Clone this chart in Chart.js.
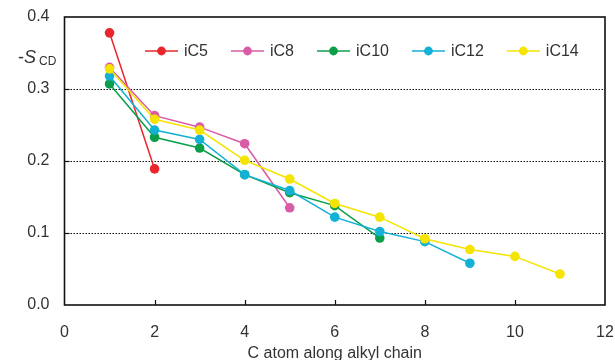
<!DOCTYPE html>
<html>
<head>
<meta charset="utf-8">
<script src="https://cdn.jsdelivr.net/npm/chart.js@4/dist/chart.umd.min.js"></script>
<style>
html,body{margin:0;padding:0;background:#fff;}
#wrap{width:615px;height:360px;position:relative;}
</style>
</head>
<body>
<div id="wrap"><canvas id="c" width="615" height="360"></canvas></div>
<script>
// ---- data ----
const carbonAtoms = [1, 2, 3, 4, 5, 6, 7, 8, 9, 10, 11];
const seriesNames = ["iC5", "iC8", "iC10", "iC12", "iC14"];
const iC5  = [0.378, 0.189];
const iC8  = [0.330, 0.263, 0.247, 0.224, 0.135];
const iC10 = [0.307, 0.233, 0.218, 0.181, 0.156, 0.138, 0.093];
const iC12 = [0.318, 0.243, 0.230, 0.181, 0.159, 0.122, 0.102, 0.088, 0.058];
const iC14 = [0.328, 0.258, 0.243, 0.201, 0.175, 0.141, 0.122, 0.092, 0.077, 0.0675, 0.043];
const xTicks = [0, 2, 4, 6, 8, 10, 12];
const yTicks = [0.0, 0.1, 0.2, 0.3, 0.4];
const xTitle = "C atom along alkyl chain";

const seriesValues = [iC5, iC8, iC10, iC12, iC14];
const colors = ["#e8262b", "#d95ba6", "#0b9f4a", "#14b1d6", "#f5e300"];
const FONT = "'Liberation Sans', Arial, sans-serif";
const TXT = "#333333";

const datasets = seriesValues.map((vals, i) => ({
  label: seriesNames[i],
  data: vals.map((v, k) => ({x: carbonAtoms[k], y: v})),
  borderColor: colors[i],
  backgroundColor: colors[i],
  pointBackgroundColor: colors[i],
  pointBorderColor: colors[i],
  pointRadius: 4.8,
  pointBorderWidth: 0,
  borderWidth: 1.5,
  tension: 0,
  order: seriesValues.length - i
}));

const decor = {
  id: 'decor',
  beforeDatasetsDraw(chart) {
    const {ctx, chartArea: a, scales: {x, y}} = chart;
    ctx.save();
    ctx.strokeStyle = '#111';
    ctx.lineWidth = 1.2;
    ctx.setLineDash([1.5, 1.5]);
    yTicks.forEach(v => {
      if (v <= 0 || v >= 0.4) return;
      const py = Math.round(y.getPixelForValue(v)) + 0.5;
      ctx.beginPath(); ctx.moveTo(a.left, py); ctx.lineTo(a.right, py); ctx.stroke();
    });
    ctx.setLineDash([]);
    ctx.restore();
  },
  afterDraw(chart) {
    const {ctx, chartArea: a, scales: {x, y}} = chart;
    ctx.save();
    ctx.strokeStyle = '#111';
    ctx.lineWidth = 1.6;
    ctx.strokeRect(a.left, a.top, a.right - a.left, a.bottom - a.top);
    ctx.lineWidth = 1.2;
    xTicks.forEach(v => {
      if (v <= 0 || v >= 12) return;
      const px = Math.round(x.getPixelForValue(v)) + 0.5;
      ctx.beginPath(); ctx.moveTo(px, a.bottom); ctx.lineTo(px, a.bottom - 5); ctx.stroke();
    });
    yTicks.forEach(v => {
      if (v <= 0 || v >= 0.4) return;
      const py = Math.round(y.getPixelForValue(v)) + 0.5;
      ctx.beginPath(); ctx.moveTo(a.left, py); ctx.lineTo(a.left + 5, py); ctx.stroke();
    });
    // x title
    ctx.fillStyle = TXT;
    ctx.font = "16px " + FONT;
    ctx.textAlign = 'center';
    ctx.textBaseline = 'alphabetic';
    ctx.fillText(xTitle, (a.left + a.right) / 2, 358);
    // y title -S_CD
    ctx.textAlign = 'left';
    ctx.font = "18px " + FONT;
    ctx.fillText("-", 18, 63);
    const wDash = ctx.measureText("-").width;
    ctx.font = "italic 18px " + FONT;
    ctx.fillText("S", 18 + wDash, 63);
    const wS = ctx.measureText("S").width;
    ctx.font = "12px " + FONT;
    ctx.fillText("CD", 18 + wDash + wS + 3, 65);
    // legend
    let lx = 145;
    const ly = 51;
    ctx.font = "16px " + FONT;
    ctx.textBaseline = 'middle';
    chart.data.datasets.forEach(ds => {
      ctx.strokeStyle = ds.borderColor;
      ctx.lineWidth = 1.5;
      ctx.beginPath(); ctx.moveTo(lx, ly); ctx.lineTo(lx + 33, ly); ctx.stroke();
      ctx.fillStyle = ds.borderColor;
      ctx.beginPath(); ctx.arc(lx + 16.5, ly, 4.4, 0, Math.PI * 2); ctx.fill();
      ctx.fillStyle = TXT;
      ctx.fillText(ds.label, lx + 39, ly + 1);
      lx += 39 + ctx.measureText(ds.label).width + 23;
    });
    ctx.restore();
  }
};

new Chart(document.getElementById('c'), {
  type: 'line',
  data: {datasets},
  options: {
    responsive: false,
    animation: false,
    devicePixelRatio: 1,
    layout: {padding: {top: 17, right: 10, left: 0, bottom: 0}},
    plugins: {legend: {display: false}, tooltip: {enabled: false}},
    scales: {
      x: {
        type: 'linear', min: 0, max: 12,
        afterBuildTicks: s => { s.ticks = xTicks.map(v => ({value: v})); },
        afterFit: s => { s.height = 55; s.paddingLeft = 0; s.paddingRight = 0; },
        grid: {display: false, drawTicks: false},
        border: {display: false},
        ticks: {padding: 18, color: TXT, font: {size: 16, family: FONT}, maxRotation: 0,
                callback: v => String(v)}
      },
      y: {
        type: 'linear', min: 0, max: 0.4,
        afterBuildTicks: s => { s.ticks = yTicks.map(v => ({value: v})); },
        afterFit: s => { s.width = 64.5; s.paddingTop = 0; s.paddingBottom = 0; },
        grid: {display: false, drawTicks: false},
        border: {display: false},
        ticks: {padding: 15, color: TXT, font: {size: 16, family: FONT},
                callback: v => Number(v).toFixed(1)}
      }
    }
  },
  plugins: [decor]
});
</script>
</body>
</html>
